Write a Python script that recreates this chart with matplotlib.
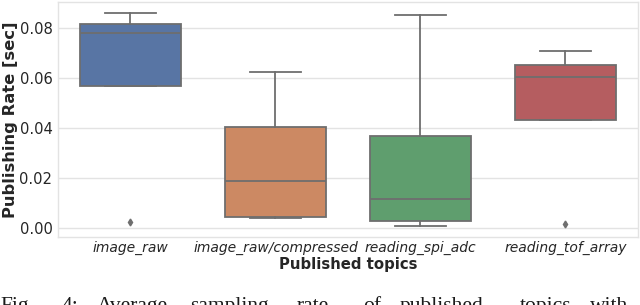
import matplotlib
matplotlib.use("Agg")
import matplotlib.pyplot as plt

# Data
topics = ["image_raw", "image_raw/compressed", "reading_spi_adc", "reading_tof_array"]
whislo = [0.0568, 0.0040, 0.0009, 0.0433]
q1 = [0.0568, 0.0044, 0.0028, 0.0433]
med = [0.0780, 0.0189, 0.0117, 0.0604]
q3 = [0.0816, 0.0404, 0.0368, 0.0652]
whishi = [0.0860, 0.0623, 0.0852, 0.0708]
outliers = [[0.0022], [], [], [0.0017]]
yticks = [0.00, 0.02, 0.04, 0.06, 0.08]

colors = ["#5875a4", "#cc8963", "#5f9e6e", "#b55d60"]
line_c = "#6e6e6e"

fig = plt.figure(figsize=(6.4, 3.05), dpi=100)
ax = fig.add_axes([0.0906, 0.223, 0.906, 0.770])

stats = []
for i in range(len(topics)):
    stats.append(dict(whislo=whislo[i], q1=q1[i], med=med[i], q3=q3[i],
                      whishi=whishi[i], fliers=outliers[i], label=topics[i]))

bp = ax.bxp(stats, positions=range(len(topics)), widths=0.7, patch_artist=True,
            showfliers=True,
            boxprops=dict(edgecolor=line_c, linewidth=1.3),
            medianprops=dict(color=line_c, linewidth=1.3),
            whiskerprops=dict(color=line_c, linewidth=1.3),
            capprops=dict(color=line_c, linewidth=1.3),
            flierprops=dict(marker="d", markersize=3.5, markerfacecolor=line_c,
                            markeredgecolor=line_c, linestyle="none"))
for patch, c in zip(bp["boxes"], colors):
    patch.set_facecolor(c)
for z in bp["boxes"]:
    z.set_zorder(2)

ax.set_xlim(-0.5, len(topics) - 0.5)
ax.set_ylim(-0.0036, 0.0904)
ax.set_yticks(yticks)
ax.set_yticklabels([f"{v:.2f}" for v in yticks], fontsize=10.6, color="#262626")
ax.set_xticks(range(len(topics)))
ax.set_xticklabels(topics, fontsize=10, style="italic", color="#262626")
ax.tick_params(axis="both", length=0, pad=3)
ax.tick_params(axis="y", pad=4)
ax.yaxis.grid(True, color="#e3e3e3", linewidth=1.0, zorder=0)
ax.set_axisbelow(True)
for s in ax.spines.values():
    s.set_color("#e3e3e3")
    s.set_linewidth(1.0)

ax.set_ylabel("Publishing Rate [sec]", fontsize=11.8, fontweight="bold", color="#262626", labelpad=1)
ax.set_xlabel("Published topics", fontsize=10.7, fontweight="bold", color="#262626", labelpad=1)

# Caption (partially visible at the bottom, as in the reference)
cap_words = ["Fig.", "4:", "Average", "sampling", "rate", "of", "published", "topics", "with"]
cap_x = [0, 62, 97, 190, 297, 363, 400, 520, 590]
for w, x in zip(cap_words, cap_x):
    fig.text(x / 640, (305 - 311) / 305, w, fontsize=15.5, family="Liberation Serif",
             ha="left", va="baseline", color="#1a1a1a")

fig.savefig("out.png", dpi=100)
